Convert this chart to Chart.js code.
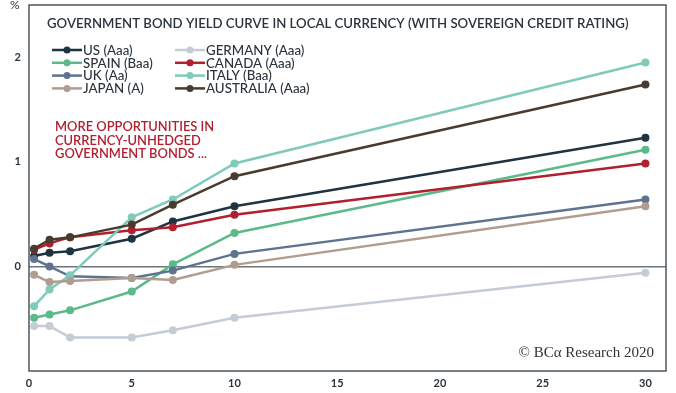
<!DOCTYPE html>
<html>
<head>
<meta charset="utf-8">
<script src="https://cdn.jsdelivr.net/npm/chart.js@4"></script>
<style>
  html, body { margin: 0; padding: 0; background: #fff; }
  #wrap { width: 676px; height: 393px; }
</style>
</head>
<body>
<div id="wrap"><canvas id="yc"></canvas></div>
<script>
// maturities in years
var maturities = [0.25, 1, 2, 5, 7, 10, 30];

var usYield        = [0.10, 0.13, 0.145, 0.265, 0.43, 0.575, 1.23];
var germanyYield   = [-0.57, -0.57, -0.68, -0.68, -0.61, -0.49, -0.06];
var spainYield     = [-0.49, -0.46, -0.42, -0.24, 0.02, 0.32, 1.115];
var canadaYield    = [0.16, 0.22, 0.28, 0.345, 0.375, 0.495, 0.985];
var ukYield        = [0.07, 0.0, -0.095, -0.11, -0.04, 0.12, 0.64];
var italyYield     = [-0.38, -0.22, -0.085, 0.47, 0.64, 0.985, 1.95];
var japanYield     = [-0.08, -0.15, -0.14, -0.11, -0.13, 0.015, 0.575];
var australiaYield = [0.17, 0.255, 0.278, 0.40, 0.59, 0.863, 1.74];

var yTicks = [0, 1, 2];
var xTicks = [0, 5, 10, 15, 20, 25, 30];

var series = [
    { label: "US (Aaa)",        data: usYield,        color: "#1f3340" },
    { label: "GERMANY (Aaa)",   data: germanyYield,   color: "#c5ccd6" },
    { label: "SPAIN (Baa)",     data: spainYield,     color: "#5cb98a" },
    { label: "CANADA (Aaa)",    data: canadaYield,    color: "#b1202f" },
    { label: "UK (Aa)",         data: ukYield,        color: "#5e7390" },
    { label: "ITALY (Baa)",     data: italyYield,     color: "#7fcab9" },
    { label: "JAPAN (A)",       data: japanYield,     color: "#b09d8f" },
    { label: "AUSTRALIA (Aaa)", data: australiaYield, color: "#4b3b2e" }
];
// legend is laid out column by column
var legendOrder = ["US (Aaa)", "SPAIN (Baa)", "UK (Aa)", "JAPAN (A)",
                   "GERMANY (Aaa)", "CANADA (Aaa)", "ITALY (Baa)", "AUSTRALIA (Aaa)"];

var TXT = "#2b343c";
var FONT = "Lato, 'Open Sans', sans-serif";

var datasets = series.map(function (s, i) {
    return {
        label: s.label,
        data: maturities.map(function (m, j) { return { x: m, y: s.data[j] }; }),
        borderColor: s.color,
        backgroundColor: s.color,
        borderWidth: 2.5,
        pointRadius: 4,
        pointBorderWidth: 0,
        tension: 0,
        order: series.length - i   // later series drawn on top
    };
});

var decor = {
    id: "decor",
    afterDatasetsDraw: function (chart) {
        var c = chart.ctx, a = chart.chartArea;
        c.save();
        // frame
        c.strokeStyle = "#4d5860";
        c.lineWidth = 1.5;
        c.strokeRect(a.left, a.top, a.right - a.left, a.bottom - a.top);

        c.textBaseline = "middle";
        c.textAlign = "left";
        // unit
        c.fillStyle = TXT;
        c.font = "12px " + FONT;
        c.fillText("%", 10, 5);

        // title
        c.font = "600 13.2px " + FONT;
        c.fillText("GOVERNMENT BOND YIELD CURVE IN LOCAL CURRENCY (WITH SOVEREIGN CREDIT RATING)", 47, 24);

        // legend
        c.font = "500 13.3px " + FONT;
        legendOrder.forEach(function (name, k) {
            var ds = datasets.find(function (d) { return d.label === name; });
            var x0 = k < 4 ? 52 : 175;
            var y = 50 + (k % 4) * 12.8;
            c.strokeStyle = ds.borderColor;
            c.lineWidth = 2.5;
            c.beginPath(); c.moveTo(x0, y); c.lineTo(x0 + 30, y); c.stroke();
            c.fillStyle = ds.borderColor;
            c.beginPath(); c.arc(x0 + 15, y, 3.5, 0, Math.PI * 2); c.fill();
            c.fillStyle = TXT;
            c.fillText(name, x0 + 31, y + 0.5);
        });

        // annotation
        c.fillStyle = "#b1202f";
        c.font = "600 12.9px " + FONT;
        ["MORE OPPORTUNITIES IN", "CURRENCY-UNHEDGED", "GOVERNMENT BONDS ..."].forEach(function (t, k) {
            c.fillText(t, 55, 127 + k * 13.5);
        });

        // source
        c.fillStyle = "#333";
        c.font = "15px 'Liberation Serif', 'DejaVu Serif', serif";
        c.textAlign = "right";
        c.fillText("\u00A9 BC\u03B1 Research 2020", 654, 353);
        c.restore();
    }
};

new Chart(document.getElementById("yc"), {
    type: "line",
    data: { datasets: datasets },
    plugins: [decor],
    options: {
        responsive: true,
        maintainAspectRatio: false,
        animation: false,
        layout: { padding: { top: 5, right: 10, left: 0, bottom: 0 } },
        plugins: {
            legend: { display: false },
            tooltip: { enabled: false }
        },
        scales: {
            x: {
                type: "linear",
                min: 0,
                max: 31,
                afterFit: function (s) {
                    s.height = 22;
                    s.paddingLeft = 0; s.paddingRight = 0;
                },
                afterBuildTicks: function (s) {
                    s.ticks = xTicks.map(function (v) { return { value: v }; });
                },
                grid: { display: false, drawTicks: false },
                border: { display: false },
                ticks: {
                    color: TXT,
                    padding: 6,
                    font: { family: FONT, size: 11, weight: "bold" },
                    maxRotation: 0
                }
            },
            y: {
                min: -1,
                max: 2.5,
                afterFit: function (s) {
                    s.width = 29;
                    s.paddingTop = 0; s.paddingBottom = 0;
                },
                afterBuildTicks: function (s) {
                    s.ticks = yTicks.map(function (v) { return { value: v }; });
                },
                grid: {
                    drawTicks: false,
                    color: function (ctx) { return ctx.tick && ctx.tick.value === 0 ? "#6b747b" : "rgba(0,0,0,0)"; },
                    lineWidth: 1.5
                },
                border: { display: false },
                ticks: {
                    color: TXT,
                    padding: 8,
                    font: { family: FONT, size: 11, weight: "bold" }
                }
            }
        }
    }
});
</script>
</body>
</html>
